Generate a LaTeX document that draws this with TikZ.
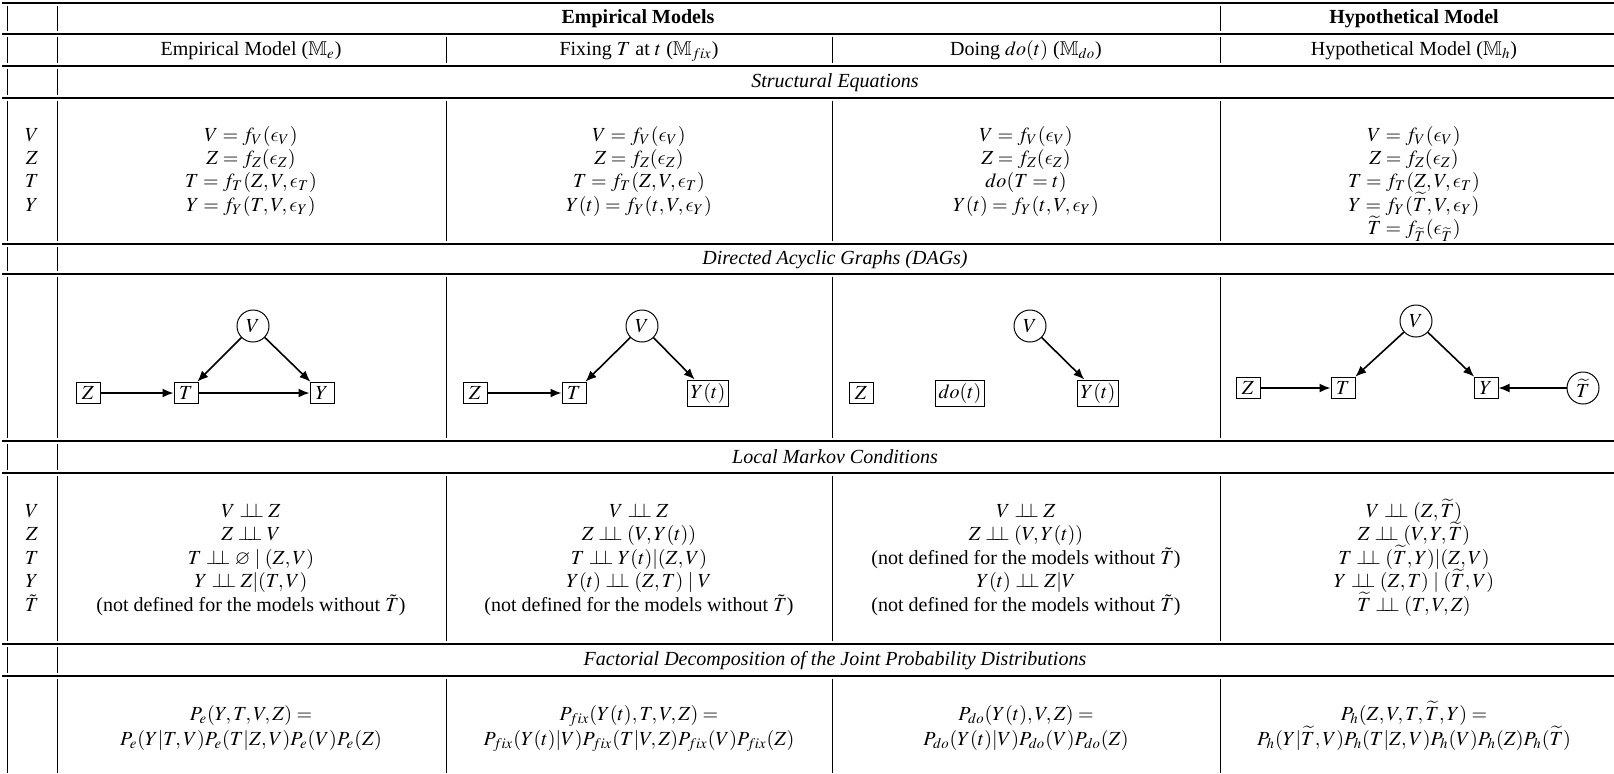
\documentclass[tikz,border=0pt]{standalone}
\usepackage{mathptmx}
\usepackage{amssymb}
\usepackage{fontspec}
\setmainfont{Liberation Serif}
\usetikzlibrary{arrows.meta}
\DeclareSymbolFont{cmlett}{OML}{cmm}{m}{it}
\DeclareMathSymbol{\lepsilon}{\mathord}{cmlett}{"0F}
\newcommand{\indepsym}{\mathrel{\perp\!\!\!\perp}}
\newcommand{\Tt}{\widetilde{T}}
\begin{document}
\begin{tikzpicture}[x=0.5pt,y=-0.5pt,
  txt/.style={anchor=base, inner sep=0pt, font=\fontsize{10}{12}\selectfont},
  hb/.style={txt, font=\fontsize{10}{12}\selectfont\bfseries},
  hi/.style={txt, font=\fontsize{10}{12}\selectfont\itshape},
  rulel/.style={line width=0.6pt},
  vline/.style={line width=0.45pt},
  cnode/.style={circle, draw, line width=0.5pt, minimum size=16pt, inner sep=0pt, font=\fontsize{10}{12}\selectfont},
  bnode/.style={rectangle, draw, line width=0.5pt, minimum width=12pt, minimum height=10.8pt, inner sep=1.5pt, font=\fontsize{10}{12}\selectfont},
  arr/.style={line width=0.8pt, -{Latex[length=5.5pt,width=4.5pt]}}]
\useasboundingbox (0,0) rectangle (1614,773);

% horizontal rules
\foreach \y in {3,34,66,98,244,274,441,473,644,676}
  \draw[rulel] (2,\y) -- (1614,\y);

% vertical segments
\foreach \a/\b in {3/34,66/98,244/274,441/473,644/676}
  \foreach \x in {7,57}
    \draw[vline] (\x,\a+3) -- (\x,\b-3);
\draw[vline] (1220,6) -- (1220,31);
\foreach \a/\b in {34/66,98/244,274/441,473/644}
  \foreach \x in {7,57,446,832,1220}
    \draw[vline] (\x,\a+3) -- (\x,\b-3);
\foreach \x in {7,57,446,832,1220}
  \draw[vline] (\x,679) -- (\x,773);

% header rows
\node[hb] (hEmp) at (638,23.5) {Empirical Models};
\node[hb] (hHyp) at (1414,23.5) {Hypothetical Model};
\node[txt] (s1) at (251,55.5) {Empirical Model ($\mathbb{M}_e$)};
\node[txt] (s2) at (639,55.5) {Fixing $T$ at $t$ ($\mathbb{M}_{fix}$)};
\node[txt] (s3) at (1026,55.5) {Doing $do(t)$ ($\mathbb{M}_{do}$)};
\node[txt] (s4) at (1414,55.5) {Hypothetical Model ($\mathbb{M}_h$)};

% Structural equations
\node[hi] (hSE) at (835,87) {Structural Equations};
\node[txt] (seL1) at (32,141) {$V$};
\node[txt] (seL2) at (32,164.4) {$Z$};
\node[txt] (seL3) at (32,187.8) {$T$};
\node[txt] (seL4) at (32,211.2) {$Y$};
\node[txt] (se11) at (251,141) {$V=f_V(\lepsilon_V)$};
\node[txt] (se12) at (251,164.4) {$Z=f_Z(\lepsilon_Z)$};
\node[txt] (se13) at (251,187.8) {$T=f_T(Z,V,\lepsilon_T)$};
\node[txt] (se14) at (251,211.2) {$Y=f_Y(T,V,\lepsilon_Y)$};
\node[txt] (se21) at (639,141) {$V=f_V(\lepsilon_V)$};
\node[txt] (se22) at (639,164.4) {$Z=f_Z(\lepsilon_Z)$};
\node[txt] (se23) at (639,187.8) {$T=f_T(Z,V,\lepsilon_T)$};
\node[txt] (se24) at (639,211.2) {$Y(t)=f_Y(t,V,\lepsilon_Y)$};
\node[txt] (se31) at (1026,141) {$V=f_V(\lepsilon_V)$};
\node[txt] (se32) at (1026,164.4) {$Z=f_Z(\lepsilon_Z)$};
\node[txt] (se33) at (1026,187.8) {$do(T=t)$};
\node[txt] (se34) at (1026,211.2) {$Y(t)=f_Y(t,V,\lepsilon_Y)$};
\node[txt] (se41) at (1414,141) {$V=f_V(\lepsilon_V)$};
\node[txt] (se42) at (1414,164.4) {$Z=f_Z(\lepsilon_Z)$};
\node[txt] (se43) at (1414,187.8) {$T=f_T(Z,V,\lepsilon_T)$};
\node[txt] (se44) at (1414,211.2) {$Y=f_Y(\Tt,V,\lepsilon_Y)$};
\node[txt] (se45) at (1414,234.6) {$\Tt=f_{\Tt}(\lepsilon_{\Tt})$};

% DAGs
\node[hi] (hDAG) at (835,264) {Directed Acyclic Graphs (DAGs)};
\node[cnode] (aV) at (253,326) {$V$};
\node[bnode] (aZ) at (88,393) {$Z$};
\node[bnode] (aT) at (186,393) {$T$};
\node[bnode] (aY) at (322,393) {$Y$};
\draw[arr] (aV) -- (aT);
\draw[arr] (aV) -- (aY);
\draw[arr] (aZ) -- (aT);
\draw[arr] (aT) -- (aY);

\node[cnode] (bV) at (642,326) {$V$};
\node[bnode] (bZ) at (475,393) {$Z$};
\node[bnode] (bT) at (574,393) {$T$};
\node[bnode] (bY) at (708,393) {$Y(t)$};
\draw[arr] (bV) -- (bT);
\draw[arr] (bV) -- (bY);
\draw[arr] (bZ) -- (bT);

\node[cnode] (cV) at (1030,326) {$V$};
\node[bnode] (cZ) at (861,393) {$Z$};
\node[bnode] (cD) at (960,393) {$do(t)$};
\node[bnode] (cY) at (1098,393) {$Y(t)$};
\draw[arr] (cV) -- (cY);

\node[cnode] (dV) at (1416,321) {$V$};
\node[bnode] (dZ) at (1248,388) {$Z$};
\node[bnode] (dT) at (1343,388) {$T$};
\node[bnode] (dY) at (1486,388) {$Y$};
\node[cnode] (dTt) at (1583,388) {$\Tt$};
\draw[arr] (dV) -- (dT);
\draw[arr] (dV) -- (dY);
\draw[arr] (dZ) -- (dT);
\draw[arr] (dTt) -- (dY);

% Local Markov conditions
\node[hi] (hLMC) at (835,463) {Local Markov Conditions};
\node[txt] (lmL1) at (32,517.5) {$V$};
\node[txt] (lmL2) at (32,540.9) {$Z$};
\node[txt] (lmL3) at (32,564.3) {$T$};
\node[txt] (lmL4) at (32,587.7) {$Y$};
\node[txt] (lmL5) at (32,611.1) {$\tilde{T}$};
\node[txt] (lm11) at (251,517.5) {$V\indepsym Z$};
\node[txt] (lm12) at (251,540.9) {$Z\indepsym V$};
\node[txt] (lm13) at (251,564.3) {$T\indepsym \varnothing\mid(Z,V)$};
\node[txt] (lm14) at (251,587.7) {$Y\indepsym Z|(T,V)$};
\node[txt] (lm15) at (251,611.1) {(not defined for the models without $\tilde{T}$)};
\node[txt] (lm21) at (639,517.5) {$V\indepsym Z$};
\node[txt] (lm22) at (639,540.9) {$Z\indepsym (V,Y(t))$};
\node[txt] (lm23) at (639,564.3) {$T\indepsym Y(t)|(Z,V)$};
\node[txt] (lm24) at (639,587.7) {$Y(t)\indepsym (Z,T)\mid V$};
\node[txt] (lm25) at (639,611.1) {(not defined for the models without $\tilde{T}$)};
\node[txt] (lm31) at (1026,517.5) {$V\indepsym Z$};
\node[txt] (lm32) at (1026,540.9) {$Z\indepsym (V,Y(t))$};
\node[txt] (lm33) at (1026,564.3) {(not defined for the models without $\tilde{T}$)};
\node[txt] (lm34) at (1026,587.7) {$Y(t)\indepsym Z|V$};
\node[txt] (lm35) at (1026,611.1) {(not defined for the models without $\tilde{T}$)};
\node[txt] (lm41) at (1414,517.5) {$V\indepsym (Z,\Tt)$};
\node[txt] (lm42) at (1414,540.9) {$Z\indepsym (V,Y,\Tt)$};
\node[txt] (lm43) at (1414,564.3) {$T\indepsym (\Tt,Y)|(Z,V)$};
\node[txt] (lm44) at (1414,587.7) {$Y\indepsym (Z,T)\mid(\Tt,V)$};
\node[txt] (lm45) at (1414,611.1) {$\Tt\indepsym (T,V,Z)$};

% Factorial decomposition
\node[hi] (hFD) at (835,665) {Factorial Decomposition of the Joint Probability Distributions};
\node[txt] (fd11) at (251,720) {$P_e(Y,T,V,Z)=$};
\node[txt] (fd12) at (251,745) {$P_e(Y|T,V)P_e(T|Z,V)P_e(V)P_e(Z)$};
\node[txt] (fd21) at (639,720) {$P_{fix}(Y(t),T,V,Z)=$};
\node[txt] (fd22) at (639,745) {$P_{fix}(Y(t)|V)P_{fix}(T|V,Z)P_{fix}(V)P_{fix}(Z)$};
\node[txt] (fd31) at (1026,720) {$P_{do}(Y(t),V,Z)=$};
\node[txt] (fd32) at (1026,745) {$P_{do}(Y(t)|V)P_{do}(V)P_{do}(Z)$};
\node[txt] (fd41) at (1414,720) {$P_h(Z,V,T,\Tt,Y)=$};
\node[txt] (fd42) at (1414,745) {$P_h(Y|\Tt,V)P_h(T|Z,V)P_h(V)P_h(Z)P_h(\Tt)$};
\end{tikzpicture}
\end{document}
